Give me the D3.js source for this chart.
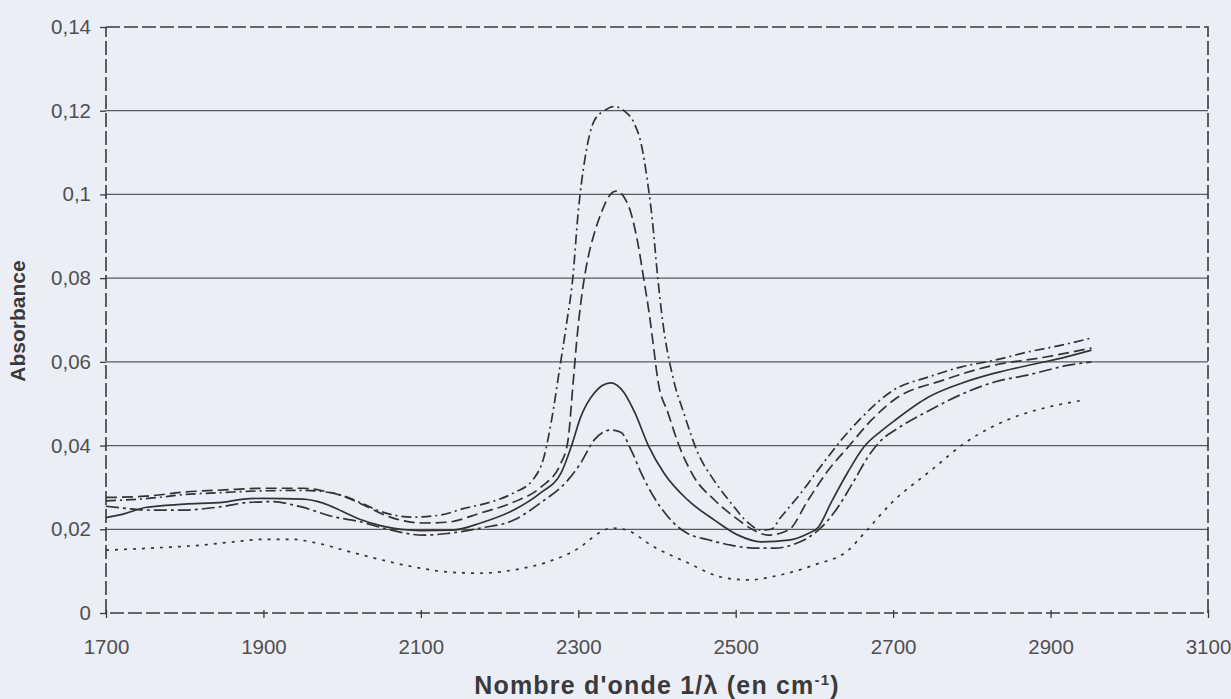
<!DOCTYPE html>
<html>
<head>
<meta charset="utf-8">
<script src="https://cdn.jsdelivr.net/npm/d3@7"></script>
<style>
  body { margin: 0; background: #eceef7; }
  svg { display: block; }
  text { font-family: "Liberation Sans", Arial, sans-serif; fill: #3a3a3a; }
</style>
</head>
<body>
<div id="chart"></div>
<script>
const w = 1231;
const h = 699;

// axis ticks
const xTicks = [1700, 1900, 2100, 2300, 2500, 2700, 2900, 3100];
const yTicks = [0, 0.02, 0.04, 0.06, 0.08, 0.1, 0.12, 0.14];

// spectra, [wavenumber, absorbance]
const dashDotHigh = [[1700,0.0268],[1750,0.0273],[1800,0.0283],[1850,0.0288],[1900,0.0292],[1950,0.0293],[1975,0.029],[2000,0.0281],[2025,0.0262],[2050,0.0242],[2090,0.0229],[2125,0.0234],[2155,0.025],[2185,0.0263],[2218,0.0287],[2243,0.032],[2256,0.037],[2266,0.046],[2276,0.058],[2285,0.069],[2293,0.08],[2300,0.096],[2308,0.108],[2320,0.1175],[2333,0.12],[2345,0.121],[2358,0.12],[2371,0.117],[2380,0.112],[2388,0.103],[2394,0.094],[2401,0.08],[2407,0.07],[2421,0.0557],[2434,0.0478],[2452,0.0382],[2472,0.0318],[2494,0.0263],[2515,0.0217],[2532,0.0198],[2545,0.02],[2557,0.0228],[2583,0.0287],[2608,0.035],[2634,0.0413],[2660,0.0467],[2700,0.0532],[2745,0.0564],[2787,0.0588],[2829,0.0604],[2872,0.0624],[2914,0.064],[2952,0.0657]];

const dashedHigh = [[1700,0.0276],[1750,0.0279],[1800,0.0289],[1850,0.0294],[1900,0.0298],[1950,0.0298],[1975,0.0292],[2000,0.028],[2025,0.026],[2061,0.0229],[2103,0.0215],[2134,0.0217],[2176,0.0239],[2218,0.0265],[2252,0.03],[2278,0.0358],[2287,0.0413],[2293,0.054],[2299,0.067],[2306,0.078],[2312,0.0845],[2320,0.0905],[2329,0.0955],[2338,0.0993],[2348,0.1008],[2358,0.0994],[2367,0.0955],[2376,0.088],[2383,0.08],[2390,0.0717],[2396,0.063],[2401,0.0557],[2414,0.0478],[2428,0.04],[2447,0.0325],[2473,0.027],[2498,0.023],[2523,0.0198],[2541,0.0186],[2567,0.0198],[2592,0.027],[2618,0.0342],[2643,0.0397],[2672,0.046],[2701,0.0509],[2765,0.0557],[2828,0.0592],[2892,0.0611],[2952,0.0633]];

const solidMid = [[1700,0.0228],[1725,0.0238],[1750,0.0252],[1800,0.026],[1850,0.0265],[1875,0.0272],[1900,0.0274],[1950,0.0272],[1975,0.0263],[2000,0.0243],[2025,0.0222],[2050,0.0208],[2100,0.0197],[2140,0.0198],[2176,0.0215],[2218,0.0246],[2252,0.0287],[2278,0.0334],[2291,0.0397],[2303,0.0468],[2320,0.0525],[2341,0.055],[2358,0.0527],[2372,0.0478],[2389,0.04],[2409,0.0334],[2439,0.027],[2473,0.0222],[2503,0.0186],[2532,0.017],[2567,0.0174],[2592,0.019],[2605,0.0205],[2621,0.0263],[2642,0.0335],[2663,0.0397],[2685,0.0435],[2702,0.046],[2745,0.0516],[2787,0.0549],[2829,0.0573],[2872,0.0592],[2914,0.0609],[2952,0.0628]];

const dashDotLow = [[1700,0.0255],[1725,0.025],[1756,0.0246],[1798,0.0246],[1850,0.0255],[1880,0.0264],[1910,0.0266],[1947,0.0254],[1989,0.023],[2023,0.0218],[2052,0.0203],[2103,0.0186],[2134,0.019],[2176,0.0203],[2218,0.0222],[2252,0.0263],[2287,0.0318],[2303,0.0358],[2320,0.0413],[2341,0.0437],[2354,0.0432],[2367,0.039],[2380,0.0334],[2396,0.0277],[2414,0.023],[2427,0.0205],[2439,0.019],[2465,0.0175],[2494,0.0162],[2523,0.0155],[2550,0.0155],[2575,0.0165],[2592,0.018],[2609,0.0205],[2625,0.024],[2651,0.0318],[2668,0.0373],[2685,0.0413],[2705,0.044],[2750,0.0488],[2790,0.0525],[2829,0.0552],[2872,0.0569],[2923,0.0592],[2952,0.06]];

const dottedLow = [[1700,0.015],[1756,0.0155],[1820,0.0162],[1862,0.017],[1900,0.0176],[1935,0.0176],[1968,0.0167],[2010,0.0146],[2050,0.0127],[2091,0.011],[2134,0.0098],[2176,0.0095],[2218,0.0103],[2261,0.0122],[2303,0.0158],[2325,0.019],[2343,0.0203],[2360,0.0199],[2396,0.0158],[2439,0.012],[2481,0.0086],[2515,0.0079],[2557,0.0091],[2600,0.0115],[2643,0.015],[2663,0.019],[2698,0.0263],[2749,0.0342],[2791,0.0406],[2854,0.0468],[2897,0.0492],[2943,0.0509]];

const series = [
    { data: dashDotHigh, dash: "10,4,2,4" },
    { data: dashedHigh, dash: "11,5" },
    { data: solidMid, dash: null },
    { data: dashDotLow, dash: "13,4,3,4" },
    { data: dottedLow, dash: "3,6" }
];

const margin = { top: 27, right: 23, bottom: 86, left: 106 };

const svg = d3.select("#chart").append("svg").attr("width", w).attr("height", h);

const x = d3.scaleLinear().domain([1700, 3100]).range([margin.left, w - margin.right]);
const y = d3.scaleLinear().domain([0, 0.14]).range([h - margin.bottom, margin.top]);

const fmt = d => String(+d.toFixed(2)).replace(".", ",");

//gridlines
svg.append("g")
    .selectAll("line")
    .data(yTicks.slice(1, -1))
    .enter().append("line")
    .attr("x1", x(1700)).attr("x2", x(3100))
    .attr("y1", d => y(d)).attr("y2", d => y(d))
    .style("stroke", "#5a5a5a")
    .style("stroke-width", 1.3);

//dashed frame
const frame = [[1700, 0.14], [3100, 0.14], [3100, 0], [1700, 0], [1700, 0.14]];
svg.append("path")
    .attr("d", d3.line().x(d => x(d[0])).y(d => y(d[1]))(frame))
    .style("fill", "none")
    .style("stroke", "#3a3a3a")
    .style("stroke-width", 1.6)
    .style("stroke-dasharray", "14,4");

//axes
const yAxis = svg.append("g")
    .attr("transform", "translate(" + x(1700) + ",0)")
    .call(d3.axisLeft(y).tickValues(yTicks).tickFormat(fmt).tickSize(6).tickPadding(9));

const xAxis = svg.append("g")
    .attr("transform", "translate(0," + y(0) + ")")
    .call(d3.axisBottom(x).tickValues(xTicks).tickFormat(d => d).tickSize(5).tickPadding(21));

[yAxis, xAxis].forEach(a => {
    a.select(".domain").remove();
    a.selectAll("line").style("stroke", "#3a3a3a").style("stroke-width", 1.3);
    a.selectAll("text").style("font-size", "20.5px").style("fill", "#505050").attr("font-family", null);
});
xAxis.selectAll("line").attr("y1", -3);

//spectra
const line = d3.line()
    .x(d => x(d[0]))
    .y(d => y(d[1]))
    .curve(d3.curveMonotoneX);

svg.append("g")
    .selectAll("path")
    .data(series)
    .enter().append("path")
    .attr("d", d => line(d.data))
    .style("fill", "none")
    .style("stroke", "#333")
    .style("stroke-width", 1.7)
    .style("stroke-dasharray", d => d.dash);

//axis titles
const xTitle = svg.append("text")
    .attr("x", 657)
    .attr("y", 694)
    .attr("text-anchor", "middle")
    .style("font-size", "25px")
    .style("font-weight", "bold")
    .style("letter-spacing", "1.2px");
xTitle.append("tspan").text("Nombre d'onde 1/λ (en cm");
xTitle.append("tspan").attr("dy", -9).style("font-size", "15px").text("-1");
xTitle.append("tspan").attr("dy", 9).text(")");

svg.append("text")
    .attr("transform", "translate(25,321) rotate(-90)")
    .attr("text-anchor", "middle")
    .style("font-size", "21px")
    .style("font-weight", "bold")
    .text("Absorbance");
</script>
</body>
</html>
